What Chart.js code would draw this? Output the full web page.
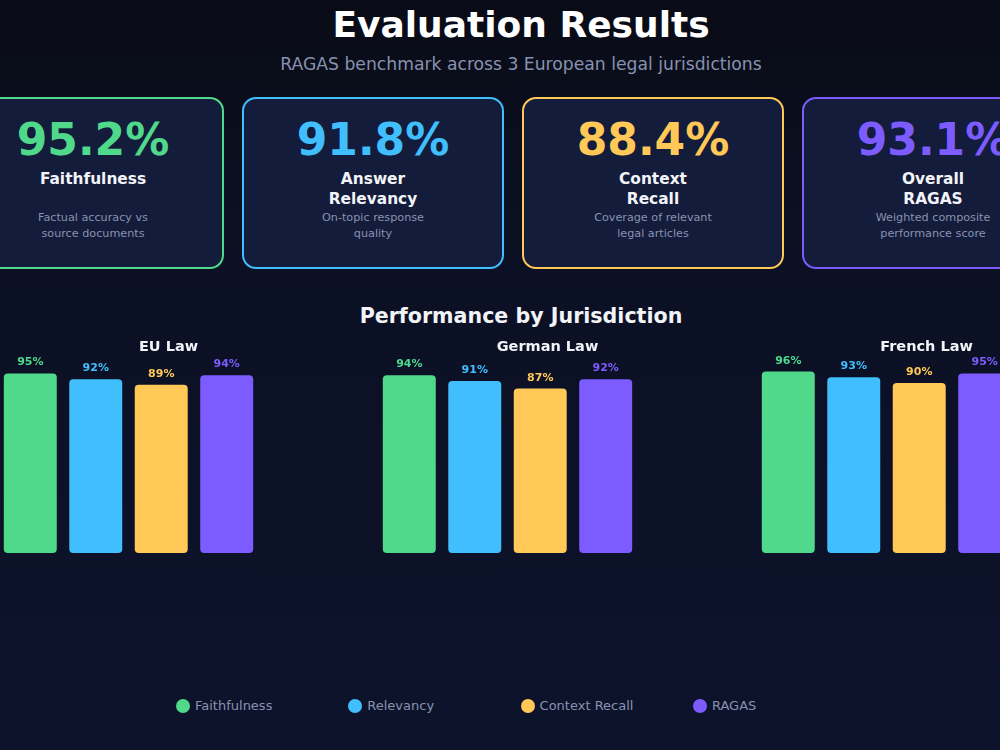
<!DOCTYPE html>
<html>
<head>
<meta charset="utf-8">
<script src="https://cdn.jsdelivr.net/npm/chart.js@4.4.1/dist/chart.umd.min.js"></script>
<style>
  html, body { margin: 0; padding: 0; }
  body {
    width: 1000px; height: 750px; overflow: hidden; position: relative;
    background: linear-gradient(180deg, #090c16 0%, #0b1024 35%, #0d132b 100%);
    font-family: "DejaVu Sans", sans-serif;
  }
  .title { position: absolute; left: 0; width: 1042px; text-align: center; top: 7px;
    font-size: 36px; line-height: 36px; font-weight: bold; color: #ffffff; }
  .subtitle { position: absolute; left: 0; width: 1042px; text-align: center; top: 55.5px;
    font-size: 17.2px; line-height: 17px; color: #8892b0; }
  .card { position: absolute; top: 97px; width: 262px; height: 172px; box-sizing: border-box;
    border: 2px solid; border-radius: 14px; background: #141c3b; }
  .card div { position: absolute; left: 0; width: 100%; text-align: center; white-space: pre-line; }
  .card .num { top: 18.5px; font-size: 44px; line-height: 44px; font-weight: bold; }
  .card .lbl { top: 69.5px; font-size: 15.4px; line-height: 20px; font-weight: bold; color: #f2f4f8; }
  .card .desc { top: 110.5px; font-size: 11.2px; line-height: 16px; color: #8892b0; }
  .section { position: absolute; left: 0; width: 1042px; text-align: center; top: 305.5px;
    font-size: 20.6px; line-height: 20px; font-weight: bold; color: #f2f4f8; }
  #chartWrap { position: absolute; left: -61px; top: 330px; width: 1137px; height: 223px; }
  .leg { position: absolute; top: 697px; height: 18px; }
  .leg span.dot { position: absolute; left: 0; top: 2px; width: 14px; height: 14px; border-radius: 50%; }
  .leg span.txt { position: absolute; left: 19px; top: 0; font-size: 13px; line-height: 18px; color: #8892b0; white-space: nowrap; }
</style>
</head>
<body>
<div class="title">Evaluation Results</div>
<div class="subtitle">RAGAS benchmark across 3 European legal jurisdictions</div>
<div id="cards"></div>
<div class="section">Performance by Jurisdiction</div>
<div id="chartWrap"><canvas id="chart" width="1137" height="223"></canvas></div>
<div id="legend"></div>

<script>
// summary cards
const cardValues = ['95.2%', '91.8%', '88.4%', '93.1%'];
const cardLabels = ['Faithfulness', 'Answer\nRelevancy', 'Context\nRecall', 'Overall\nRAGAS'];
const cardDescs = ['Factual accuracy vs\nsource documents', 'On-topic response\nquality',
                   'Coverage of relevant\nlegal articles', 'Weighted composite\nperformance score'];

// per-jurisdiction scores
const jurisdictions = ['EU Law', 'German Law', 'French Law'];
const metrics = ['Faithfulness', 'Relevancy', 'Context Recall', 'RAGAS'];
const faithfulness = [95, 94, 96];
const relevancy = [92, 91, 93];
const contextRecall = [89, 87, 90];
const ragas = [94, 92, 95];
const colors = ['#50d98b', '#40befd', '#ffc857', '#7c5cff'];

// build cards
const cardsEl = document.getElementById('cards');
cardValues.forEach((v, i) => {
  const c = document.createElement('div');
  c.className = 'card';
  c.style.left = (-38 + i * 280) + 'px';
  c.style.borderColor = colors[i];
  c.innerHTML = '<div class="num" style="color:' + colors[i] + '"></div><div class="lbl"></div><div class="desc"></div>';
  c.querySelector('.num').textContent = v;
  c.querySelector('.lbl').textContent = cardLabels[i];
  c.querySelector('.desc').textContent = cardDescs[i];
  cardsEl.appendChild(c);
});

// labels above bars + group titles
const labelPlugin = {
  id: 'barLabels',
  afterDatasetsDraw(chart) {
    const ctx = chart.ctx;
    ctx.save();
    ctx.textAlign = 'center';
    ctx.textBaseline = 'alphabetic';
    ctx.font = 'bold 11px "DejaVu Sans"';
    chart.data.datasets.forEach((ds, di) => {
      chart.getDatasetMeta(di).data.forEach((bar, i) => {
        ctx.fillStyle = ds.backgroundColor;
        ctx.fillText(ds.data[i] + '%', bar.x, bar.y - 8);
      });
    });
    ctx.font = 'bold 14.5px "DejaVu Sans"';
    ctx.fillStyle = '#f2f4f8';
    const xs = chart.scales.x;
    chart.data.labels.forEach((lab, i) => {
      ctx.fillText(lab, xs.getPixelForValue(i) + 40, 21);
    });
    ctx.restore();
  }
};

const series = [faithfulness, relevancy, contextRecall, ragas];

new Chart(document.getElementById('chart').getContext('2d'), {
  type: 'bar',
  data: {
    labels: jurisdictions,
    datasets: series.map((d, i) => ({
      label: metrics[i],
      data: d,
      backgroundColor: colors[i],
      borderRadius: 4,
      borderSkipped: false,
      categoryPercentage: 0.691,
      barPercentage: 0.809,
    })),
  },
  options: {
    responsive: false,
    animation: false,
    devicePixelRatio: 1,
    layout: { padding: 0 },
    plugins: {
      legend: { display: false },
      tooltip: { enabled: false },
    },
    scales: {
      x: { display: false, grid: { display: false } },
      y: { display: false, min: 0, max: 118, grid: { display: false } },
    },
  },
  plugins: [labelPlugin],
});

// legend
const legendEl = document.getElementById('legend');
metrics.forEach((m, i) => {
  const item = document.createElement('div');
  item.className = 'leg';
  item.style.left = (176 + i * 172.3) + 'px';
  item.innerHTML = '<span class="dot" style="background:' + colors[i] + '"></span><span class="txt"></span>';
  item.querySelector('.txt').textContent = m;
  legendEl.appendChild(item);
});
</script>
</body>
</html>
